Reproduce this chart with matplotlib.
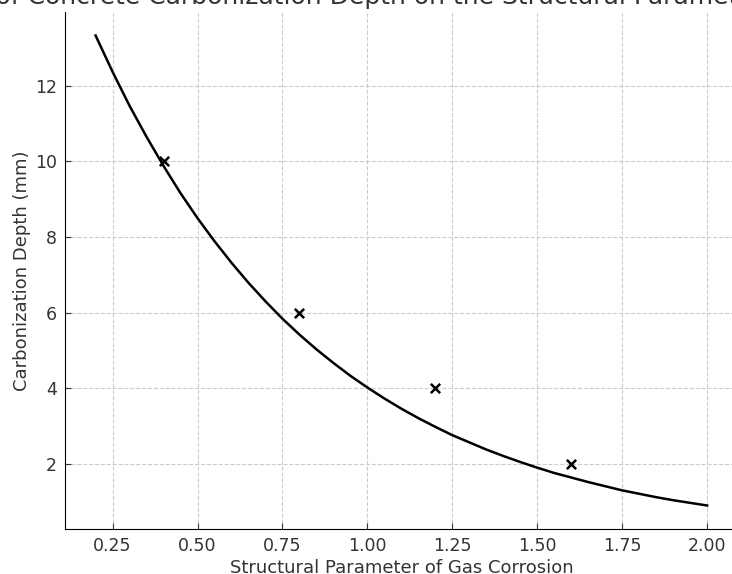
import matplotlib.pyplot as plt

# measured points
x_meas = [0.4, 0.8, 1.2, 1.6]
y_meas = [10, 6, 4, 2]

# fitted curve
x_fit = [0.2, 0.25, 0.3, 0.35, 0.4, 0.45, 0.5, 0.55, 0.6, 0.65, 0.7, 0.75, 0.8, 0.85, 0.9, 0.95,
         1.0, 1.05, 1.1, 1.15, 1.2, 1.25, 1.3, 1.35, 1.4, 1.45, 1.5, 1.55, 1.6, 1.65, 1.7, 1.75,
         1.8, 1.85, 1.9, 1.95, 2.0]
y_fit = [13.33, 12.37, 11.47, 10.65, 9.88, 9.16, 8.50, 7.89, 7.32, 6.79, 6.30, 5.84, 5.42, 5.03, 4.67, 4.33,
         4.02, 3.73, 3.46, 3.21, 2.98, 2.76, 2.57, 2.38, 2.21, 2.05, 1.90, 1.76, 1.64, 1.52, 1.41, 1.30,
         1.21, 1.12, 1.04, 0.97, 0.90]

fig = plt.figure(figsize=(7.32, 5.74), dpi=100)
ax = fig.add_axes([0.0888, 0.0784, 0.919, 0.9007])

ax.plot(x_fit, y_fit, color='black', lw=1.8)
ax.scatter(x_meas, y_meas, marker='x', color='black', s=45, linewidths=1.8, zorder=3)

ax.grid(True, linestyle='--', color='#cccccc', lw=0.8)
ax.spines['top'].set_visible(False)
ax.spines['right'].set_visible(False)
ax.tick_params(labelsize=12.5, direction='in', length=4, pad=6, colors='#333333')
ax.set_xticks([0.25, 0.5, 0.75, 1.0, 1.25, 1.5, 1.75, 2.0])
ax.set_yticks([2, 4, 6, 8, 10, 12])
ax.set_xlabel('Structural Parameter of Gas Corrosion', fontsize=13, color='#333333', labelpad=3)
ax.set_ylabel('Carbonization Depth (mm)', fontsize=13, color='#333333', labelpad=3)
# the figure is cropped, only the middle of the title shows
ax.set_title('Effect of Concrete Carbonization Depth on the Structural Parameter of Gas Corrosion',
             fontsize=18, color='#333333', pad=6, x=0.568)

fig.savefig('out.png', dpi=100)
